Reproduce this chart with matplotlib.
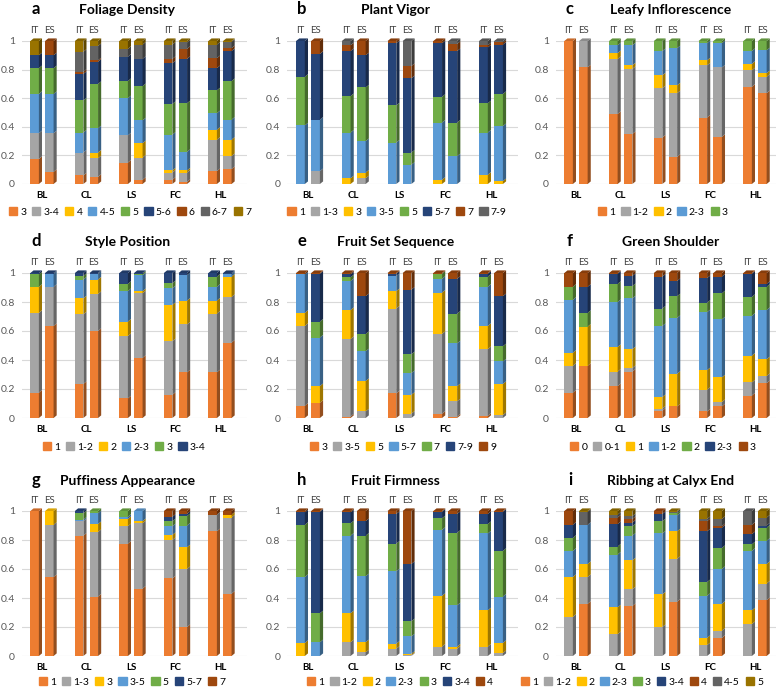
import numpy as np
import matplotlib.pyplot as plt
from matplotlib.colors import to_rgb
from matplotlib.patches import Patch

plt.rcParams['font.family'] = ['Lato', 'DejaVu Sans']

W, H = 777, 691

sites = ['BL', 'CL', 'LS', 'FC', 'HL']
sources = ['IT', 'ES']
palette = ['#ED7D31', '#A5A5A5', '#FFC000', '#5B9BD5', '#70AD47',
           '#264478', '#9E480E', '#636363', '#997300']

# shares per bar, rows: BL-IT, BL-ES, CL-IT, CL-ES, LS-IT, LS-ES, FC-IT, FC-ES, HL-IT, HL-ES
foliage_cats = ['3', '3-4', '4', '4-5', '5', '5-6', '6', '6-7', '7']
foliage = [
    [.175, .18, 0, .275, .18, .09, 0, 0, .10],
    [.085, .27, 0, .275, .18, .09, .10, 0, 0],
    [.06, .16, 0, .14, .225, .185, .015, .14, .075],
    [.05, .13, .04, .17, .31, .155, .01, .10, .035],
    [.15, .19, 0, .26, .12, .17, 0, .055, .055],
    [.03, .155, .10, .16, .24, .19, 0, .10, .025],
    [.03, .05, .015, .25, .215, .285, .03, .10, .025],
    [.015, .065, .015, .13, .34, .31, .07, .045, .01],
    [.09, .22, .07, .115, .16, .155, .07, .095, .025],
    [.105, .09, .115, .14, .27, .21, .02, .045, .005],
]

vigor_cats = ['1', '1-3', '3', '3-5', '5', '5-7', '7', '7-9']
vigor = [
    [0, 0, 0, .41, .34, .25, 0, 0],
    [0, .09, 0, .36, 0, .46, .09, 0],
    [0, 0, .04, .32, .255, .315, .04, .03],
    [0, .04, .04, .22, .375, .225, .10, 0],
    [0, 0, 0, .29, .26, .435, .015, 0],
    [0, 0, 0, .135, .085, .52, .085, .175],
    [0, 0, .03, .40, .18, .375, .015, 0],
    [0, 0, 0, .195, .235, .50, .05, .02],
    [0, 0, .065, .295, .205, .39, .015, .03],
    [0, 0, .02, .385, .225, .345, .015, .01],
]

leafy_cats = ['1', '1-2', '2', '2-3', '3']
leafy = [
    [1, 0, 0, 0, 0],
    [.815, .185, 0, 0, 0],
    [.49, .385, .04, .055, .03],
    [.35, .455, .025, .14, .03],
    [.325, .345, .09, .17, .07],
    [.19, .445, .055, .26, .05],
    [.465, .365, .035, .12, .015],
    [.33, .485, 0, .17, .015],
    [.68, .115, .045, .09, .07],
    [.635, .115, .025, .16, .065],
]

style_cats = ['1', '1-2', '2', '2-3', '3', '3-4']
style = [
    [.175, .55, .18, 0, .085, .01],
    [.635, .27, 0, .09, 0, .005],
    [.235, .48, .11, .13, .025, .02],
    [.60, .255, .10, .04, 0, .005],
    [.135, .43, .10, .21, .05, .075],
    [.415, .445, .015, .11, .01, .005],
    [.16, .37, .25, .115, .035, .07],
    [.315, .33, .165, .175, 0, .015],
    [.315, .405, .09, .095, .07, .025],
    [.52, .315, .14, .02, 0, .005],
]

fruitset_cats = ['3', '3-5', '5', '5-7', '7', '7-9', '9']
fruitset = [
    [.085, .55, .09, .265, 0, 0, .01],
    [.105, 0, .115, .335, .11, .33, .005],
    [.01, .535, .20, .20, .025, .02, .01],
    [0, .045, .21, .205, .12, .26, .16],
    [.17, .585, .12, .105, 0, .015, .005],
    [0, .03, .13, .15, .13, .445, .115],
    [.03, .55, .285, .095, .035, 0, .005],
    [.01, .105, .105, .295, .205, .24, .04],
    [.015, .46, .16, .27, .07, .02, .005],
    [0, .02, .215, .155, .105, .345, .16],
]

shoulder_cats = ['0', '0-1', '1', '1-2', '2', '2-3', '3']
shoulder = [
    [.175, .185, .09, .365, .09, 0, .095],
    [.36, 0, .27, 0, .095, .18, .095],
    [.22, .10, .17, .31, .125, .07, .005],
    [.32, .025, .13, .35, .085, .07, .02],
    [.05, .015, .08, .49, .12, .22, .025],
    [.08, 0, .225, .385, .15, .105, .055],
    [.045, .15, .135, .40, .065, .17, .035],
    [.08, .03, .17, .40, .18, .115, .025],
    [.155, .09, .185, .275, .13, .16, .005],
    [.24, .05, .115, .34, .16, .02, .075],
]

puff_cats = ['1', '1-3', '3', '3-5', '5', '5-7', '7']
puff = [
    [1, 0, 0, 0, 0, 0, 0],
    [.545, .36, .095, 0, 0, 0, 0],
    [.83, .10, 0, .01, .045, .015, 0],
    [.41, .445, .055, .075, .015, 0, 0],
    [.775, .12, .05, .015, .04, 0, 0],
    [.465, .45, .015, .07, 0, 0, 0],
    [.535, .265, .035, .06, .035, .03, .04],
    [.20, .40, .15, .15, .065, .015, .02],
    [.86, .115, 0, 0, 0, 0, .025],
    [.43, .525, .02, 0, 0, 0, .025],
]

firm_cats = ['1', '1-2', '2', '2-3', '3', '3-4', '4']
firm = [
    [0, 0, .09, .455, .36, .085, .01],
    [0, 0, 0, .095, .20, .70, .005],
    [0, .095, .20, .535, .085, .075, .01],
    [0, .025, .07, .455, .28, .10, .07],
    [0, .05, .035, .50, .19, .205, .02],
    [0, .005, .01, .12, .105, .395, .365],
    [0, .065, .35, .455, .08, .045, .005],
    [0, .05, .015, .285, .50, .13, .02],
    [0, .065, .25, .53, .065, .07, .02],
    [0, .02, .07, .32, .315, .27, .005],
]

rib_cats = ['1', '1-2', '2', '2-3', '3', '3-4', '4', '4-5', '5']
rib = [
    [0, .27, .275, .18, .09, .09, .095, 0, 0],
    [.36, .185, .09, .27, 0, 0, 0, .09, .005],
    [0, .15, .185, .365, .055, .155, .045, .02, .025],
    [.345, .115, .20, .17, .065, .025, .025, .02, .035],
    [0, .20, .225, .42, .085, .05, .02, 0, 0],
    [.375, .295, .19, .11, .015, 0, 0, .01, .005],
    [0, .075, .05, .29, .095, .35, .07, .015, .055],
    [.125, .05, .185, .24, .145, .14, .01, .05, .055],
    [0, .22, .095, .41, .045, .07, .065, .095, 0],
    [.385, .115, .135, .16, .09, .015, 0, .055, .045],
]

panels = [
    ('a', 'Foliage Density', foliage_cats, foliage),
    ('b', 'Plant Vigor', vigor_cats, vigor),
    ('c', 'Leafy Inflorescence', leafy_cats, leafy),
    ('d', 'Style Position', style_cats, style),
    ('e', 'Fruit Set Sequence', fruitset_cats, fruitset),
    ('f', 'Green Shoulder', shoulder_cats, shoulder),
    ('g', 'Puffiness Appearance', puff_cats, puff),
    ('h', 'Fruit Firmness', firm_cats, firm),
    ('i', 'Ribbing at Calyx End', rib_cats, rib),
]

# pixel layout of the grid
col_bl = [42, 308, 576]
col_hl = [220, 491, 755]
row_top = [41, 273, 511]
row_bot = [184, 418, 656]
legend_x = [130, 397, 663, 124, 403, 663, 132, 400, 642]
legend_y = [212, 447, 682]


def shade(c, f):
    r, g, b = to_rgb(c)
    return (r * f, g * f, b * f)


fig = plt.figure(figsize=(W / 100, H / 100), dpi=100)

w, off, dx, dy = 0.19, 0.165, 0.07, 0.018

for idx, (letter, title, cats, data) in enumerate(panels):
    r, c = divmod(idx, 3)
    bl, hl = col_bl[c], col_hl[c]
    sp = (hl - bl) / 4
    left = bl - 0.45 * sp
    right = min(hl + 0.6 * sp, W - 1)
    top, bot = row_top[r], row_bot[r]
    ax = fig.add_axes([left / W, 1 - bot / H, (right - left) / W, (bot - top) / H])
    ax.set_xlim((left - bl) / sp, (right - bl) / sp)
    ax.set_ylim(0, 1)

    shares = np.array(data)
    xs = np.array([g + s for g in range(len(sites)) for s in (-off, off)])
    bottoms = np.cumsum(shares, axis=1) - shares
    colors = palette[:len(cats)]
    for k, col in enumerate(colors):
        ax.bar(xs, shares[:, k], bottom=bottoms[:, k], width=w, color=col,
               linewidth=0, zorder=3)
        for x, h, b in zip(xs, shares[:, k], bottoms[:, k]):
            if h <= 0:
                continue
            xr = x + w / 2
            ax.fill([xr, xr + dx, xr + dx, xr], [b, b + dy, b + h + dy, b + h],
                    color=shade(col, 0.62), linewidth=0, zorder=3, clip_on=False)
    # top faces
    for i, x in enumerate(xs):
        nz = np.nonzero(shares[i])[0]
        k = nz[-1]
        t = shares[i].sum()
        xl = x - w / 2
        ax.fill([xl, xl + dx, xl + w + dx, xl + w], [t, t + dy, t + dy, t],
                color=shade(colors[k], 0.85), linewidth=0, zorder=4, clip_on=False)
        ax.text(x, 1.075, sources[i % 2], ha='center', va='center',
                fontsize=7, color='#404040')

    ax.set_yticks(np.arange(0, 1.01, 0.2))
    ax.set_yticklabels(['0', '0.2', '0.4', '0.6', '0.8', '1'])
    ax.set_xticks(range(len(sites)))
    ax.set_xticklabels(sites, fontweight='bold', fontsize=7, color='black')
    ax.tick_params(axis='both', length=0)
    ax.tick_params(axis='y', labelsize=7.5, labelcolor='#595959', pad=5)
    ax.tick_params(axis='x', pad=5)
    ax.grid(axis='y', color='#D9D9D9', linewidth=0.8)
    ax.set_axisbelow(True)
    for s in ax.spines.values():
        s.set_visible(False)

    handles = [Patch(color=col) for col in colors]
    ax.legend(handles, cats, loc='center',
              bbox_to_anchor=(legend_x[idx] / W, 1 - legend_y[r] / H),
              bbox_transform=fig.transFigure, ncol=len(cats), frameon=False,
              fontsize=7.5, handlelength=0.8, handleheight=0.8,
              handletextpad=0.3, columnspacing=0.55, borderpad=0, borderaxespad=0)

    # title and panel letter
    ty = top - 31 if r < 2 else top - 30
    fig.text((bl - 6) / W, 1 - (ty - 1) / H, letter, fontsize=12,
             fontweight='bold', ha='center', va='center')
    fig.text((bl + hl) / 2 / W - 0.005 + (0.012 if c == 2 else 0), 1 - ty / H, title,
             fontsize=10, fontweight='bold', ha='center', va='center')

fig.savefig('out.png', dpi=100)
